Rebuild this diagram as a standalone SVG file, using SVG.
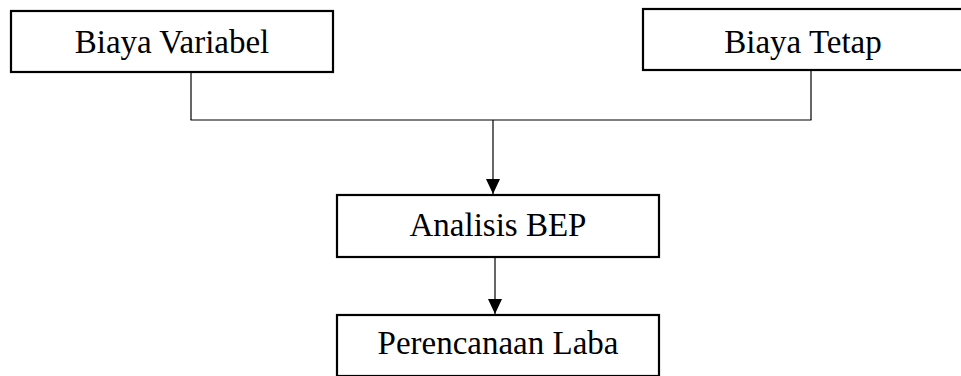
<svg xmlns="http://www.w3.org/2000/svg" width="961" height="376" viewBox="0 0 961 376">
  <defs>
    <style>
      .box { fill: #ffffff; stroke: #000000; stroke-width: 2.2; }
      .lbl { font-family: "Liberation Serif", "Times New Roman", serif; font-size: 33px; fill: #000000; text-anchor: middle; }
      .ln { stroke: #000000; stroke-width: 1.2; fill: none; }
    </style>
    <marker id="arr" markerUnits="userSpaceOnUse" markerWidth="15" markerHeight="14" viewBox="0 0 15 14" refX="15" refY="7" orient="auto">
      <path d="M0,0 L15,7 L0,14 Z" fill="#000000"/>
    </marker>
  </defs>
  <rect width="961" height="376" fill="#ffffff"/>
  <g id="connectors">
    <line class="ln" x1="191" y1="72" x2="191" y2="120"/>
    <line class="ln" x1="811" y1="70" x2="811" y2="120"/>
    <line class="ln" x1="190.5" y1="120" x2="811.5" y2="120"/>
    <line class="ln" x1="493" y1="120" x2="493" y2="194" marker-end="url(#arr)"/>
    <line class="ln" x1="495" y1="257" x2="495" y2="314" marker-end="url(#arr)"/>
  </g>
  <g id="biaya-variabel">
    <rect class="box" x="11" y="11" width="322" height="61"/>
    <text class="lbl" x="172" y="53">Biaya Variabel</text>
  </g>
  <g id="biaya-tetap">
    <rect class="box" x="643" y="9" width="322" height="61"/>
    <text class="lbl" x="803" y="53">Biaya Tetap</text>
  </g>
  <g id="analisis-bep">
    <rect class="box" x="337" y="195" width="322" height="62"/>
    <text class="lbl" x="498" y="236">Analisis BEP</text>
  </g>
  <g id="perencanaan-laba">
    <rect class="box" x="337" y="315" width="322" height="61"/>
    <text class="lbl" x="498" y="354">Perencanaan Laba</text>
  </g>
</svg>
